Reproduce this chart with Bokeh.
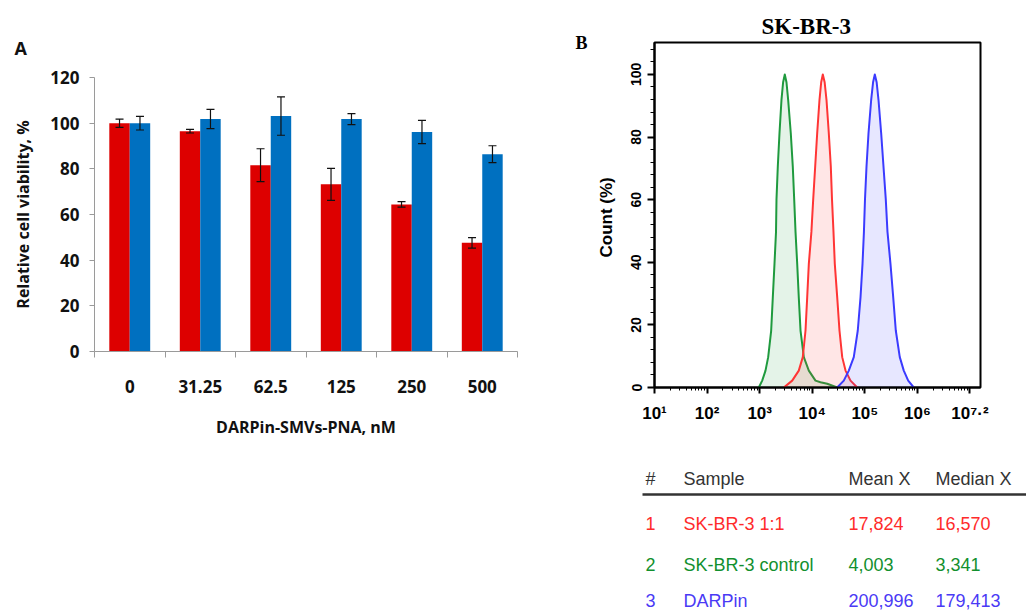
from bokeh.plotting import figure
from bokeh.layouts import row, column
from bokeh.models import (Range1d, FixedTicker, ColumnDataSource, Whisker, TeeHead,
                          Title, LinearAxis)
from bokeh.core.properties import value
from bokeh.embed import file_html
from bokeh.resources import INLINE

# ---------------- Panel A data ----------------
categories = ["0", "31.25", "62.5", "125", "250", "500"]
red_vals = [100.0, 96.5, 81.6, 73.2, 64.4, 47.6]
red_err = [1.8, 0.8, 7.2, 7.0, 1.2, 2.3]
blue_vals = [100.0, 101.8, 103.1, 101.8, 96.1, 86.4]
blue_err = [3.0, 4.2, 8.4, 2.4, 5.1, 3.7]
y_ticks_A = [0, 20, 40, 60, 80, 100, 120]

# ---------------- Panel B data (log10 of fluorescence, count %) ----------------
green_logx = [2.984, 3.048, 3.111, 3.162, 3.219, 3.250, 3.282, 3.311, 3.320, 3.345, 3.377,
              3.415, 3.446, 3.478, 3.510, 3.542, 3.592, 3.630, 3.657, 3.682, 3.714, 3.744,
              3.777, 3.840, 3.935, 4.062, 4.157, 4.285, 4.475]
green_y = [0, 2.2, 5.4, 9.7, 18.2, 28.8, 39.5, 49.7, 60.0, 70.6, 81.2,
           91.9, 97.5, 100, 97.5, 91.9, 81.2, 70.6, 60.0, 49.7, 39.5, 28.8,
           18.2, 9.7, 5.4, 2.2, 1.7, 1.2, 0]
red_logx = [3.459, 3.619, 3.744, 3.820, 3.872, 3.904, 3.935, 3.984, 4.018, 4.056, 4.094,
            4.138, 4.170, 4.201, 4.236, 4.271, 4.315, 4.353, 4.376, 4.404, 4.429, 4.475,
            4.518, 4.570, 4.633, 4.728, 4.855]
red_y = [0, 2.2, 5.4, 9.7, 18.2, 28.8, 39.5, 49.7, 60.0, 70.6, 81.2,
         91.9, 97.5, 100, 97.5, 91.9, 81.2, 70.6, 60.0, 49.7, 39.5, 28.8,
         18.2, 9.7, 5.4, 2.2, 0]
blue_logx = [4.475, 4.600, 4.695, 4.790, 4.866, 4.918, 4.956, 4.983, 5.003, 5.032, 5.070,
             5.121, 5.157, 5.190, 5.225, 5.260, 5.311, 5.355, 5.399, 5.431, 5.488, 5.540,
             5.589, 5.665, 5.741, 5.825, 5.931]
blue_y = [0, 2.2, 5.4, 9.7, 18.2, 28.8, 39.5, 49.7, 60.0, 70.6, 81.2,
          91.9, 97.5, 100, 97.5, 91.9, 81.2, 70.6, 60.0, 49.7, 39.5, 28.8,
          18.2, 9.7, 5.4, 2.2, 0]
decades = [1, 2, 3, 4, 5, 6, 7]
x_tick_labels_B = ["10¹", "10²", "10³", "10⁴", "10⁵", "10⁶", "10⁷·²"]
y_ticks_B = [0, 20, 40, 60, 80, 100]

# ---------------- Table data ----------------
tbl_header = ["#", "Sample", "Mean X", "Median X"]
tbl_num = ["1", "2", "3"]
tbl_sample = ["SK-BR-3 1:1", "SK-BR-3 control", "DARPin"]
tbl_mean = ["17,824", "4,003", "200,996"]
tbl_median = ["16,570", "3,341", "179,413"]
tbl_colors = ["#ff2b2b", "#12902e", "#4a3af5"]

RED = "#dd0000"
BLUE = "#0070c0"
AX = "#9a9a9a"
FA = "Open Sans"

# ================= Panel A =================
pA = figure(width=572, height=612, x_range=Range1d(-0.5, 5.5), y_range=Range1d(0, 120),
            output_backend="svg", toolbar_location=None,
            min_border_left=94, min_border_right=55, min_border_top=77, min_border_bottom=261)
pA.frame_align = False
pA.grid.visible = False
pA.outline_line_color = None

idx = list(range(len(categories)))
srcR = ColumnDataSource(dict(x=[i - 0.145 for i in idx], top=red_vals,
                             upper=[v + e for v, e in zip(red_vals, red_err)],
                             lower=[v - e for v, e in zip(red_vals, red_err)]))
srcB = ColumnDataSource(dict(x=[i + 0.145 for i in idx], top=blue_vals,
                             upper=[v + e for v, e in zip(blue_vals, blue_err)],
                             lower=[v - e for v, e in zip(blue_vals, blue_err)]))
pA.vbar(x="x", top="top", bottom=0, width=0.29, source=srcR, fill_color=RED, line_color=None)
pA.vbar(x="x", top="top", bottom=0, width=0.29, source=srcB, fill_color=BLUE, line_color=None)
for s in (srcR, srcB):
    pA.add_layout(Whisker(source=s, base="x", upper="upper", lower="lower", level="overlay",
                          line_color="#111111", line_width=1.2,
                          upper_head=TeeHead(size=8, line_color="#111111", line_width=1.2),
                          lower_head=TeeHead(size=8, line_color="#111111", line_width=1.2)))

ya = pA.yaxis[0]
ya.ticker = FixedTicker(ticks=y_ticks_A, minor_ticks=[])
ya.axis_line_color = AX
ya.major_tick_line_color = AX
ya.major_tick_in = 0
ya.major_tick_out = 5
ya.major_label_standoff = 10
ya.major_label_text_font = FA
ya.major_label_text_font_style = "bold"
ya.major_label_text_font_size = "17px"
ya.major_label_text_color = "#111111"
ya.axis_label = "Relative cell viability, %"
ya.axis_label_text_font = FA
ya.axis_label_text_font_style = "bold"
ya.axis_label_text_font_size = "16px"
ya.axis_label_text_color = "#111111"
ya.axis_label_standoff = 13

xa = pA.xaxis[0]
xa.ticker = FixedTicker(ticks=idx, minor_ticks=[i - 0.5 for i in idx] + [len(idx) - 0.5])
xa.major_label_overrides = {i: c for i, c in zip(idx, categories)}
xa.axis_line_color = AX
xa.major_tick_line_color = None
xa.major_tick_in = 0
xa.major_tick_out = 0
xa.minor_tick_line_color = AX
xa.minor_tick_in = 0
xa.minor_tick_out = 6
xa.major_label_standoff = 22
xa.major_label_text_font = FA
xa.major_label_text_font_style = "bold"
xa.major_label_text_font_size = "17px"
xa.major_label_text_color = "#111111"
xa.axis_label = "DARPin-SMVs-PNA, nM"
xa.axis_label_text_font = FA
xa.axis_label_text_font_style = "bold"
xa.axis_label_text_font_size = "16px"
xa.axis_label_text_color = "#111111"
xa.axis_label_standoff = 20

pA.add_layout(Title(text="A", align="left", offset=-80, standoff=36, text_font=FA,
                    text_font_style="bold", text_font_size="18px", text_color="#111111"),
              "above")

# ================= Panel B =================
pB = figure(width=454, height=438, x_axis_type="log",
            x_range=Range1d(10 ** 1, 10 ** 7.2), y_range=Range1d(0, 110.2),
            output_backend="svg", toolbar_location=None,
            min_border_left=81, min_border_right=46, min_border_top=42, min_border_bottom=51)
pB.frame_align = False
pB.grid.visible = False
pB.outline_line_color = "black"
pB.outline_line_width = 2

for lx, ly, col in ((green_logx, green_y, "#1f9a3e"), (red_logx, red_y, "#ff3535"),
                    (blue_logx, blue_y, "#3b3bff")):
    xs = [10 ** v for v in lx]
    pB.varea(x=xs, y1=[0] * len(xs), y2=ly, fill_color=col, fill_alpha=0.12)
    pB.line(x=xs, y=ly, line_color=col, line_width=2, line_join="round")

xb = pB.xaxis[0]
xb.ticker = FixedTicker(ticks=[10 ** d for d in decades],
                        minor_ticks=[m * 10 ** d for d in decades[:-1] for m in range(2, 10)])
xb.major_label_overrides = {10 ** d: t for d, t in zip(decades, x_tick_labels_B)}
xb.axis_line_color = "black"
xb.axis_line_width = 2
xb.major_tick_line_color = "black"
xb.major_tick_line_width = 2
xb.major_tick_in = 0
xb.major_tick_out = 6
xb.minor_tick_line_color = "black"
xb.minor_tick_in = 0
xb.minor_tick_out = 3
xb.major_label_standoff = 10
xb.major_label_text_font = "Liberation Sans"
xb.major_label_text_font_style = "bold"
xb.major_label_text_font_size = "17px"
xb.major_label_text_color = "black"

yb = pB.yaxis[0]
yb.ticker = FixedTicker(ticks=y_ticks_B, minor_ticks=list(range(0, 111, 4)))
yb.axis_line_color = "black"
yb.axis_line_width = 2
yb.major_tick_line_color = "black"
yb.major_tick_line_width = 2
yb.major_tick_in = 0
yb.major_tick_out = 7
yb.minor_tick_line_color = "black"
yb.minor_tick_in = 0
yb.minor_tick_out = 4
yb.major_label_orientation = "vertical"
yb.major_label_standoff = 6
yb.major_label_text_font = "Liberation Sans"
yb.major_label_text_font_style = "bold"
yb.major_label_text_font_size = "14px"
yb.major_label_text_color = "black"
yb.axis_label = "Count  (%)"
yb.axis_label_text_font = "Liberation Sans"
yb.axis_label_text_font_style = "bold"
yb.axis_label_text_font_size = "17px"
yb.axis_label_text_color = "black"
yb.axis_label_standoff = 13

# panel letter "B" beside the top of the y axis
bax = LinearAxis(ticker=FixedTicker(ticks=[110], minor_ticks=[]),
                 major_label_overrides={110: "B"})
bax.axis_line_color = None
bax.major_tick_line_color = None
bax.minor_tick_line_color = None
bax.major_label_standoff = 0
bax.major_label_orientation = "horizontal"
bax.major_label_text_font = "Liberation Serif"
bax.major_label_text_font_style = "bold"
bax.major_label_text_font_size = "18px"
bax.major_label_text_color = "black"
pB.add_layout(bax, "left")

pB.add_layout(Title(text="SK-BR-3", align="left", offset=107, standoff=7,
                    text_font="Liberation Serif", text_font_style="bold",
                    text_font_size="23px", text_color="black"), "above")

# ================= Table =================
pT = figure(width=454, height=174, x_range=Range1d(0, 454), y_range=Range1d(174, 0),
            output_backend="svg", toolbar_location=None, min_border=0,
            x_axis_location=None, y_axis_location=None)
pT.frame_align = False
pT.grid.visible = False
pT.outline_line_color = None

col_x = [73, 111, 276, 363]
row_y = [85, 126, 162]
pT.text(x=col_x, y=[40] * 4, text=tbl_header, text_font=value("Liberation Sans"),
        text_font_size="18px", text_baseline="middle", text_align="left", text_color="#333333")
pT.segment(x0=[70], y0=[56], x1=[454], y1=[56], line_color="#333333", line_width=2.5)
for cx, colvals in zip(col_x, (tbl_num, tbl_sample, tbl_mean, tbl_median)):
    pT.text(x=[cx] * len(colvals), y=row_y, text=colvals, text_font=value("Liberation Sans"),
            text_font_size="18px", text_baseline="middle", text_align="left",
            text_color=tbl_colors)

layout = row(pA, column(pB, pT))
open("out.html", "w").write(file_html(layout, INLINE))
